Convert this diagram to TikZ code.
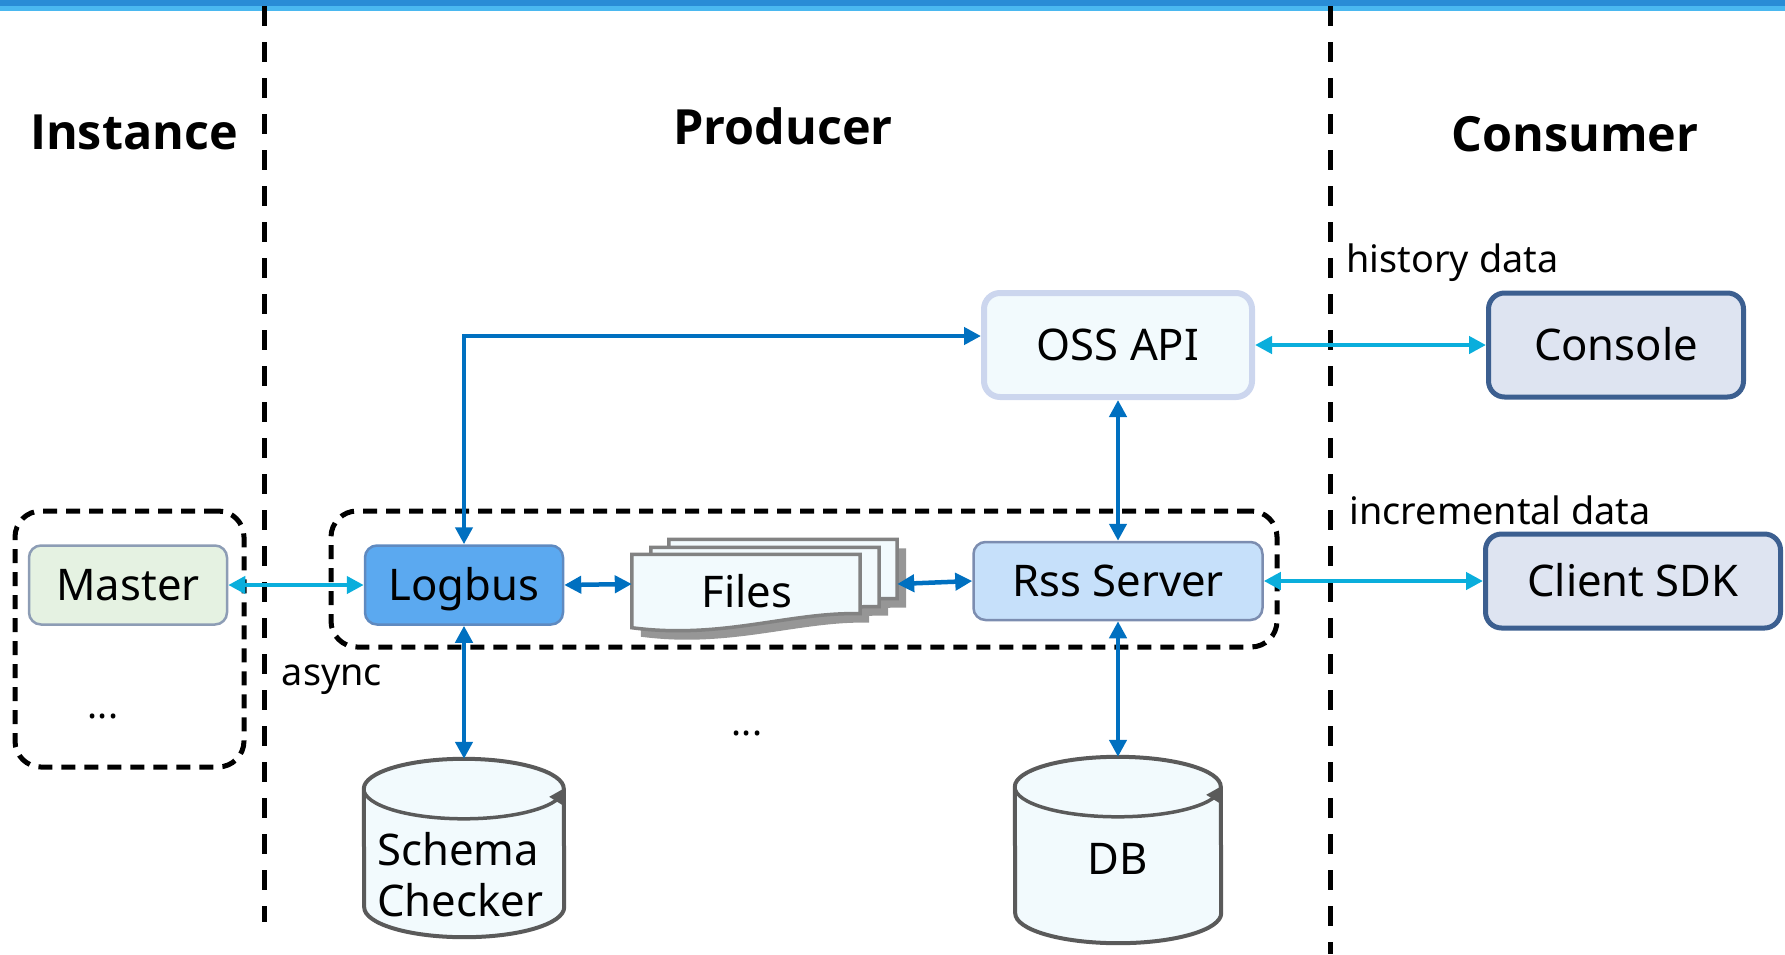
\documentclass[tikz,border=0pt]{standalone}
\usepackage{fontspec}
\setmainfont{Noto Sans}
\newfontfamily\titlefam{Open Sans}
\usetikzlibrary{positioning,arrows.meta}
\definecolor{darkarrow}{HTML}{0070C0}
\definecolor{lightarrow}{HTML}{0AAEDC}
\definecolor{sheetfill}{HTML}{F2FAFD}
\definecolor{storeline}{HTML}{5A5A5A}
\definecolor{sheetline}{HTML}{828282}
\definecolor{sheetshadow}{HTML}{969696}
\newcommand{\boxfont}{\fontsize{43.6}{51}\selectfont}
\newcommand{\titlefont}{\fontsize{48.5}{56}\titlefam\bfseries\selectfont}
\newcommand{\notefont}{\fontsize{37.8}{44}\selectfont}
\tikzstyle{title} = [font=\titlefont, text=black]
\tikzstyle{note} = [font=\notefont, text=black]
\tikzstyle{process} = [rectangle, rounded corners=12pt, font=\boxfont, text=black, inner sep=0pt, line width=2.5pt, text height=31pt, text depth=0pt]
\tikzstyle{client} = [process, draw={rgb,255:red,60;green,95;blue,144}, fill={rgb,255:red,222;green,228;blue,241}, line width=5pt, rounded corners=16pt]
\tikzstyle{store} = [rectangle, inner sep=0pt]
\tikzstyle{storebody} = [draw=storeline, fill=sheetfill, line width=4pt]
\tikzstyle{label} = [font=\boxfont, text=black, inner sep=0pt]
\tikzstyle{group} = [rectangle, draw=black, line width=5pt, rounded corners=26pt, dash pattern=on 14pt off 9pt]
\tikzstyle{divider} = [draw=black, line width=5pt, dash pattern=on 20pt off 16pt]
\tikzstyle{sheet} = [rectangle, minimum width=228pt, minimum height=59pt, inner sep=0pt]
\tikzstyle{line} = [draw=darkarrow, line width=4.5pt, {Triangle[length=17pt,width=17pt]}-{Triangle[length=17pt,width=17pt]}]
\tikzstyle{lightline} = [line, draw=lightarrow]
\begin{document}
\begin{tikzpicture}[x=1pt, y=-1pt]
	\useasboundingbox (0,0) rectangle (1785,954);
	% Top band
	\fill [fill={rgb,255:red,41;green,140;blue,214}] (0,0) rectangle (1785,6);
	\fill [fill={rgb,255:red,74;green,184;blue,240}] (0,6) rectangle (1785,11);
	% Dividers
	\coordinate (divleftA) at (264,6);
	\coordinate (divleftB) at (264,922);
	\coordinate (divrightA) at (1330,6);
	\coordinate (divrightB) at (1330,954);
	\path [divider] (divleftA) -- (divleftB);
	\path [divider] (divrightA) -- (divrightB);
	% Place titles and notes
	\node [title] (instance) at (134,132) {Instance};
	\node [title] (producer) at (783,126) {Producer};
	\node [title] (consumer) at (1575,134) {Consumer};
	\node [note, anchor=west] (history) at (1343,263) {history data};
	\node [note, anchor=west] (incremental) at (1346,510) {incremental data};
	\node [note] (async) at (332,680) {async};
	\node [note] (dotsleft) at (103,716) {...};
	\node [note] (dotsmid) at (747,733) {...};
	% Place groups
	\node [group, minimum width=229pt, minimum height=256pt] (instgroup) at (129.5,639) {};
	\node [group, minimum width=946pt, minimum height=136pt] (prodgroup) at (804,579) {};
	% Place nodes
	\node [process, draw={rgb,255:red,141;green,157;blue,181}, fill={rgb,255:red,229;green,242;blue,226}, minimum width=198pt, minimum height=79pt] (master) at (128,585) {Master};
	\node [process, draw={rgb,255:red,95;green,138;blue,192}, fill={rgb,255:red,91;green,169;blue,240}, minimum width=198pt, minimum height=79pt] (logbus) at (464,585) {Logbus};
	\node [process, draw={rgb,255:red,124;green,141;blue,176}, fill={rgb,255:red,198;green,224;blue,250}, minimum width=289pt, minimum height=78pt] (rss) at (1118,581) {Rss Server};
	\node [process, draw={rgb,255:red,204;green,214;blue,238}, fill=sheetfill, line width=6pt, rounded corners=16pt, minimum width=268pt, minimum height=104pt] (oss) at (1118,345) {OSS API};
	\node [client, minimum width=255pt, minimum height=104pt] (console) at (1616,345) {Console};
	\node [client, minimum width=295pt, minimum height=94pt] (sdk) at (1633,581) {Client SDK};
	\node [store, minimum width=200pt, minimum height=178pt] (schema) at (464,848) {};
	\node [store, minimum width=206pt, minimum height=186pt] (db) at (1118,850) {};
	% Cylinders
	\foreach \name/\rad in {schema/100, db/103} {
		\draw [storebody] ([yshift=-30pt]\name.north west) arc [start angle=180, end angle=0, x radius=\rad pt, y radius=30pt] -- ([yshift=30pt]\name.south east) arc [start angle=0, end angle=-180, x radius=\rad pt, y radius=30pt] -- cycle;
		\draw [storebody, fill=none, line width=3.5pt] ([yshift=-30pt]\name.north west) arc [start angle=180, end angle=360, x radius=\rad pt, y radius=30pt];
		\fill [storeline] ([xshift=1pt,yshift=-29pt]\name.north east) -- ([xshift=-15pt,yshift=-38pt]\name.north east) -- ([xshift=1pt,yshift=-48pt]\name.north east) -- cycle;
	}
	\node [label, align=left, anchor=west] (schematext) at (377,875) {Schema\\Checker};
	\node [label] (dbtext) at (1118,859) {DB};
	% Place file sheets
	\foreach \name/\x/\y in {fileback/783/569, filemid/765/577, filefront/746/584} {
		\node [sheet] (\name) at (\x,\y) {};
		\fill [sheetshadow] ([xshift=9pt,yshift=-9pt]\name.north west) -- ([xshift=9pt,yshift=-9pt]\name.north east) -- ([xshift=9pt,yshift=-9pt]\name.south east) .. controls +(-70,-2) and +(90,12) .. ([xshift=9pt,yshift=-23pt]\name.south west) -- cycle;
	}
	\foreach \name in {fileback, filemid, filefront} {
		\draw [draw=sheetline, fill=sheetfill, line width=3.5pt] (\name.north west) -- (\name.north east) -- (\name.south east) .. controls +(-70,-2) and +(90,12) .. ([yshift=-14pt]\name.south west) -- cycle;
	}
	\node [label] (files) at (747,591) {Files};
	% Draw edges
	\path [lightline] (master.east) -- (logbus.west);
	\path [line] (logbus.east) -- (filefront.west);
	\path [line] ([yshift=-15pt]fileback.east) -- (rss.west);
	\path [line] (logbus.north) |- ([yshift=9pt]oss.west);
	\path [line] (oss.south) -- (rss.north);
	\path [line] (logbus.south) -- (schema.north);
	\path [line] (rss.south) -- (db.north);
	\path [lightline] (oss.east) -- (console.west);
	\path [lightline] (rss.east) -- (sdk.west);
\end{tikzpicture}
\end{document}
